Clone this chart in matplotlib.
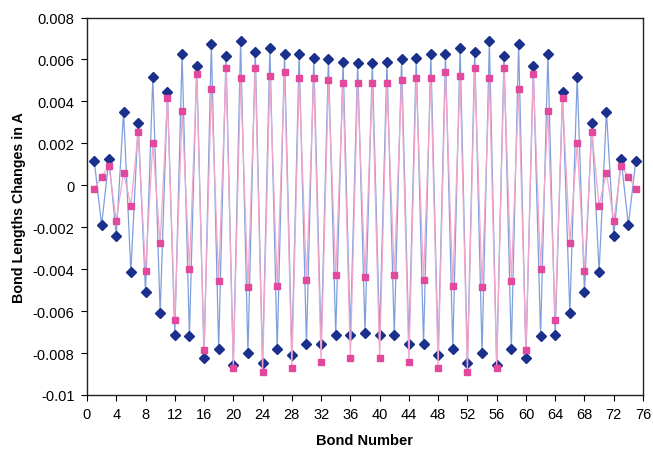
import numpy as np
import matplotlib
matplotlib.use("Agg")
import matplotlib.pyplot as plt

# bond length changes for the two structures, bonds 1..75
bond_number = list(range(1, 76))

changes_a = [
    0.00114, -0.00190, 0.00127, -0.00241, 0.00351, -0.00414, 0.00298, -0.00510,
    0.00516, -0.00611, 0.00446, -0.00714, 0.00624, -0.00717, 0.00567, -0.00822,
    0.00676, -0.00783, 0.00617, -0.00857, 0.00687, -0.00802, 0.00638, -0.00846,
    0.00657, -0.00783, 0.00625, -0.00808, 0.00625, -0.00757, 0.00605, -0.00757,
    0.00600, -0.00713, 0.00587, -0.00713, 0.00581, -0.00702, 0.00581, -0.00713,
    0.00587, -0.00713, 0.00600, -0.00757, 0.00606, -0.00757, 0.00625, -0.00808,
    0.00625, -0.00783, 0.00657, -0.00846, 0.00638, -0.00802, 0.00687, -0.00857,
    0.00617, -0.00783, 0.00676, -0.00822, 0.00567, -0.00717, 0.00624, -0.00714,
    0.00446, -0.00611, 0.00516, -0.00510, 0.00298, -0.00414, 0.00351, -0.00241,
    0.00127, -0.00190, 0.00114,
]

changes_b = [
    -0.00016, 0.00041, 0.00092, -0.00168, 0.00060, -0.00097, 0.00256, -0.00411,
    0.00200, -0.00276, 0.00417, -0.00641, 0.00352, -0.00398, 0.00530, -0.00787,
    0.00460, -0.00456, 0.00557, -0.00870, 0.00511, -0.00487, 0.00557, -0.00889,
    0.00519, -0.00481, 0.00540, -0.00870, 0.00513, -0.00454, 0.00513, -0.00844,
    0.00500, -0.00429, 0.00487, -0.00825, 0.00487, -0.00435, 0.00487, -0.00825,
    0.00487, -0.00429, 0.00500, -0.00844, 0.00513, -0.00454, 0.00513, -0.00870,
    0.00540, -0.00481, 0.00519, -0.00889, 0.00557, -0.00487, 0.00511, -0.00870,
    0.00557, -0.00456, 0.00460, -0.00787, 0.00530, -0.00398, 0.00352, -0.00641,
    0.00417, -0.00276, 0.00200, -0.00411, 0.00256, -0.00097, 0.00060, -0.00168,
    0.00092, 0.00041, -0.00016,
]

x_ticks = list(range(0, 77, 4))
y_ticks = [0.008, 0.006, 0.004, 0.002, 0, -0.002, -0.004, -0.006, -0.008, -0.01]
y_tick_labels = ["0.008", "0.006", "0.004", "0.002", "0", "-0.002", "-0.004",
                 "-0.006", "-0.008", "-0.01"]

plt.rcParams["font.family"] = ["Liberation Sans", "DejaVu Sans"]

fig = plt.figure(figsize=(6.53, 4.52), dpi=100)
ax = fig.add_axes([0.1332, 0.1239, 0.8515, 0.8351])

ax.plot(bond_number, changes_a, color="#7f9fdc", linewidth=0.9,
        marker="D", markersize=4.6, markerfacecolor="#1b2f8c",
        markeredgecolor="#1b2f8c", zorder=2)
ax.plot(bond_number, changes_b, color="#f2a6cc", linewidth=0.9,
        marker="s", markersize=4.4, markerfacecolor="#e2489c",
        markeredgecolor="#e2489c", zorder=3)

ax.set_xlim(0, 76)
ax.set_ylim(-0.01, 0.008)
ax.set_xticks(x_ticks)
ax.set_yticks(y_ticks)
ax.set_yticklabels(y_tick_labels)
ax.tick_params(direction="out", length=4, width=0.8, labelsize=10.5, pad=5)

for s in ax.spines.values():
    s.set_color("#222222")
    s.set_linewidth(1.0)

ax.set_xlabel("Bond Number", fontsize=10.5, fontweight="bold", labelpad=8)
ax.set_ylabel("Bond Lengths Changes in A", fontsize=10.3, fontweight="bold", labelpad=5)

fig.savefig("out.png", dpi=100)
